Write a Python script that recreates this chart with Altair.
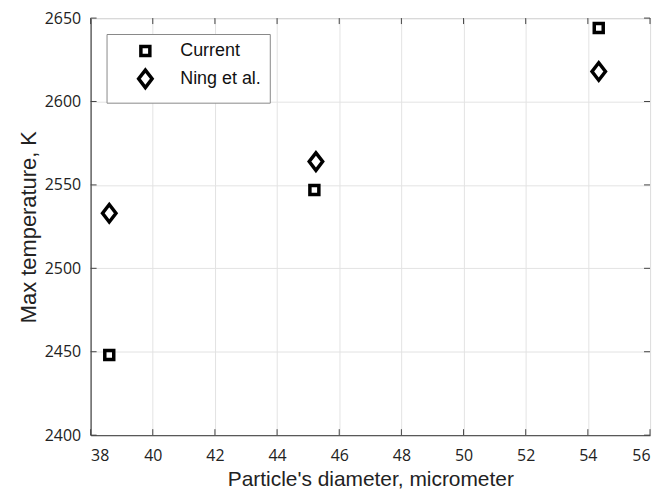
import altair as alt
import pandas as pd

series = ["Current", "Ning et al."]
current_x = [38.6, 45.2, 54.35]
current_y = [2448, 2547, 2644]
ning_x = [38.6, 45.25, 54.35]
ning_y = [2533, 2564, 2618]
x_ticks = [38, 40, 42, 44, 46, 48, 50, 52, 54, 56]
y_ticks = [2400, 2450, 2500, 2550, 2600, 2650]

W, H = 562, 419

df = pd.DataFrame({
    "x": current_x + ning_x,
    "y": current_y + ning_y,
    "series": [series[0]] * 3 + [series[1]] * 3,
})

xscale = alt.Scale(domain=[38, 56], nice=False, zero=False)
yscale = alt.Scale(domain=[2400, 2650], nice=False, zero=False)

diamond = "M0,-1.3L1,0L0,1.3L-1,0Z"

points = alt.Chart(df).mark_point(filled=False, strokeWidth=3.5, color="black", opacity=1).encode(
    x=alt.X("x:Q", scale=xscale,
            axis=alt.Axis(values=x_ticks, format="d", title="Particle's diameter, micrometer", grid=True,
                          ticks=False, labelPadding=12, titlePadding=6, titleFontSize=21)),
    y=alt.Y("y:Q", scale=yscale,
            axis=alt.Axis(values=y_ticks, format="d", title="Max temperature, K", grid=True,
                          ticks=False, labelPadding=10, titlePadding=4)),
    shape=alt.Shape("series:N", scale=alt.Scale(domain=series, range=["square", diamond]),
                    legend=alt.Legend(title=None, orient="none", legendX=16, legendY=16)),
    size=alt.Size("series:N", scale=alt.Scale(domain=series, range=[81, 182]),
                  legend=alt.Legend(title=None, orient="none", legendX=16, legendY=16)),
)

xt = pd.DataFrame({"v": x_ticks})
yt = pd.DataFrame({"v": y_ticks})
tc = "#444444"
ticks_bottom = alt.Chart(xt).mark_rule(color=tc, strokeWidth=1).encode(
    x=alt.X("v:Q", scale=xscale), y=alt.value(H - 6), y2=alt.value(H))
ticks_top = alt.Chart(xt).mark_rule(color=tc, strokeWidth=1).encode(
    x=alt.X("v:Q", scale=xscale), y=alt.value(0), y2=alt.value(6))
ticks_left = alt.Chart(yt).mark_rule(color=tc, strokeWidth=1).encode(
    y=alt.Y("v:Q", scale=yscale), x=alt.value(0), x2=alt.value(6))
ticks_right = alt.Chart(yt).mark_rule(color=tc, strokeWidth=1).encode(
    y=alt.Y("v:Q", scale=yscale), x=alt.value(W - 6), x2=alt.value(W))

chart = alt.layer(ticks_bottom, ticks_top, ticks_left, ticks_right, points).properties(
    width=W, height=H,
    padding={"left": 83, "top": 9, "right": 4, "bottom": 58},
    autosize=alt.AutoSizeParams(type="none"),
).configure_view(
    stroke="#666666", strokeWidth=1
).configure_axis(
    domainColor="#444444", domainWidth=1,
    gridColor="#e3e3e3", gridWidth=1,
    labelFont="Open Sans", labelFontSize=16, labelColor="#222222",
    titleFont="Liberation Sans", titleFontSize=22, titleFontWeight="normal", titleColor="#222222",
).configure_legend(
    strokeColor="#888888", fillColor="white", padding=8,
    symbolOffset=22, labelOffset=26, rowPadding=0,
    labelFont="Liberation Sans", labelFontSize=18, labelColor="#111111",
    symbolStrokeWidth=3.5, symbolStrokeColor="black", symbolFillColor="transparent",
)

chart.save("out.html", embed_options={"renderer": "svg", "actions": False})
